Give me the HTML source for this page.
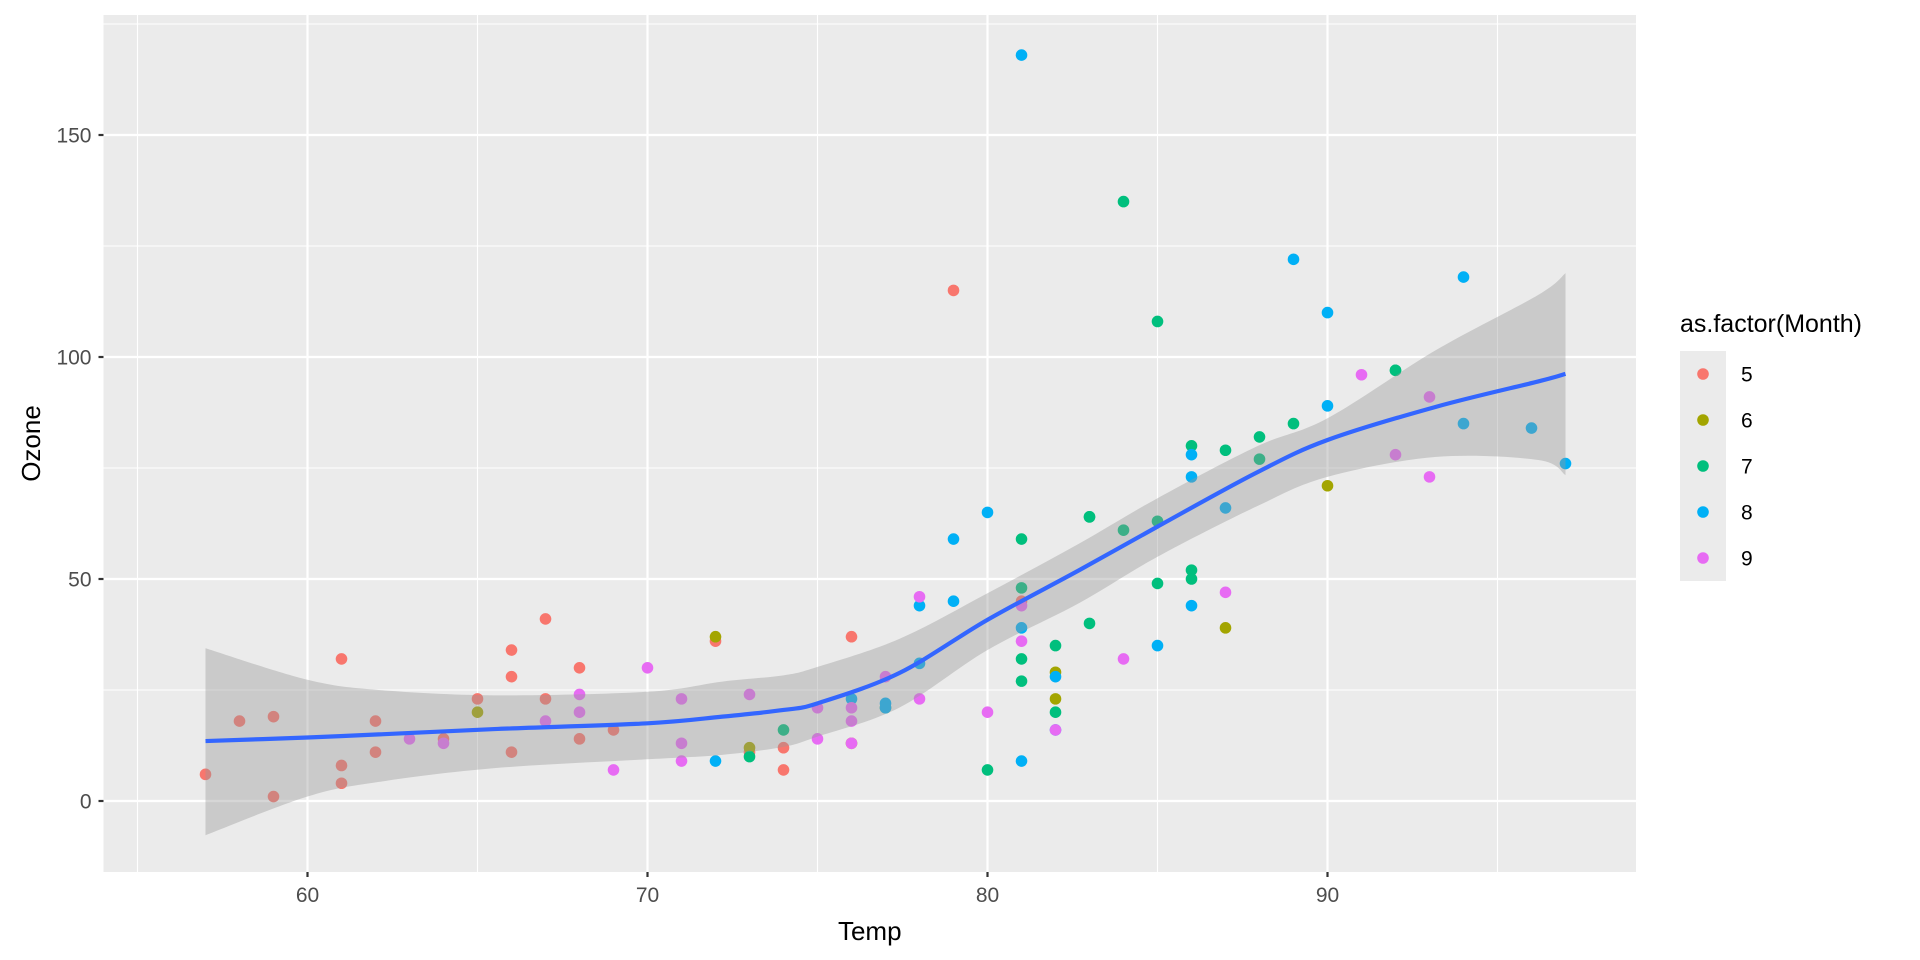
<!DOCTYPE html>
<html><head><meta charset="utf-8"><style>
html,body{margin:0;padding:0;background:#fff;}
svg{display:block;font-family:"Liberation Sans",Arial,sans-serif;}
</style></head><body>
<svg id="s" width="1920" height="960" xmlns="http://www.w3.org/2000/svg"></svg>
<script>
const L=103.5,R=1636,T=15,B=872;
const X=t=>307.5+(t-60)*34.0, Y=v=>801-v*4.44;
const cols={5:"#F8766D",6:"#A3A500",7:"#00BF7D",8:"#00B0F6",9:"#E76BF3"};
const d={
5:[[41,67],[36,72],[12,74],[18,62],[28,66],[23,65],[19,59],[8,61],[7,74],[16,69],[11,66],[14,68],[18,58],[14,64],[34,66],[6,57],[30,68],[11,62],[1,59],[11,73],[4,61],[32,61],[23,67],[45,81],[115,79],[37,76]],
6:[[29,82],[71,90],[39,87],[23,82],[21,77],[37,72],[20,65],[12,73],[13,76]],
7:[[135,84],[49,85],[32,81],[64,83],[40,83],[77,88],[97,92],[97,92],[85,89],[10,73],[27,81],[7,80],[48,81],[35,82],[61,84],[79,87],[63,85],[16,74],[80,86],[108,85],[20,82],[52,86],[82,88],[50,86],[64,83],[59,81]],
8:[[39,81],[9,81],[16,82],[78,86],[35,85],[66,87],[122,89],[89,90],[110,90],[44,86],[28,82],[65,80],[22,77],[59,79],[23,76],[31,78],[44,78],[21,77],[9,72],[45,79],[168,81],[73,86],[76,97],[118,94],[84,96],[85,94]],
9:[[96,91],[78,92],[73,93],[91,93],[47,87],[32,84],[20,80],[23,78],[21,75],[24,73],[44,81],[21,76],[28,77],[9,71],[13,71],[46,78],[18,67],[13,76],[24,68],[16,82],[13,64],[23,71],[36,81],[7,69],[14,63],[30,70],[14,75],[18,76],[20,68]]};
const band=[[57,-7.7,13.5,34.4],[60,1,14.3,27.3],[62.1,4.3,15,25],[65.5,7.4,16.2,23.8],[70,9.4,17.5,24.6],[72.2,10.4,19,26.9],[74,12.2,20.5,28.3],[75,14.5,22,30.2],[77.4,21,28.8,36.5],[80,34,40.8,46.8],[82.7,44.6,52,58],[85,55,61.8,68.2],[87.9,66.3,73.9,79.8],[90,73,81.3,86.2],[93.2,77.5,88.8,101.6],[96.2,76.8,94.5,114],[97,73.4,96.2,118.9]];
function cr(pts,start){let s=start?`M${pts[0][0]},${pts[0][1]}`:`L${pts[0][0]},${pts[0][1]}`;
 for(let i=0;i<pts.length-1;i++){const p0=pts[Math.max(i-1,0)],p1=pts[i],p2=pts[i+1],p3=pts[Math.min(i+2,pts.length-1)];
  const c1=[p1[0]+(p2[0]-p0[0])/6,p1[1]+(p2[1]-p0[1])/6],c2=[p2[0]-(p3[0]-p1[0])/6,p2[1]-(p3[1]-p1[1])/6];
  s+=`C${c1[0]},${c1[1]} ${c2[0]},${c2[1]} ${p2[0]},${p2[1]}`;}
 return s;}
let h='';
h+=`<rect x="${L}" y="${T}" width="${R-L}" height="${B-T}" fill="#EBEBEB"/>`;
for(const t of [55,65,75,85,95]) h+=`<line x1="${X(t)}" x2="${X(t)}" y1="${T}" y2="${B}" stroke="#fff" stroke-width="1.1"/>`;
for(const v of [-25,25,75,125,175]) if(Y(v)>T&&Y(v)<B) h+=`<line x1="${L}" x2="${R}" y1="${Y(v)}" y2="${Y(v)}" stroke="#fff" stroke-width="1.1"/>`;
for(const t of [60,70,80,90]) h+=`<line x1="${X(t)}" x2="${X(t)}" y1="${T}" y2="${B}" stroke="#fff" stroke-width="2.2"/>`;
for(const v of [0,50,100,150]) h+=`<line x1="${L}" x2="${R}" y1="${Y(v)}" y2="${Y(v)}" stroke="#fff" stroke-width="2.2"/>`;
for(const m of [5,6,7,8,9]) for(const [o,t] of d[m]) h+=`<circle cx="${X(t)}" cy="${Y(o)}" r="5.8" fill="${cols[m]}"/>`;
const up=band.map(b=>[X(b[0]),Y(b[3])]), lo=band.slice().reverse().map(b=>[X(b[0]),Y(b[1])]), fit=band.map(b=>[X(b[0]),Y(b[2])]);
h+=`<path d="${cr(up,true)} ${cr(lo,false)} Z" fill="#999999" fill-opacity="0.4"/>`;
h+=`<path d="${cr(fit,true)}" fill="none" stroke="#3366FF" stroke-width="4.2" stroke-linejoin="round"/>`;
for(const t of [60,70,80,90]){h+=`<line x1="${X(t)}" x2="${X(t)}" y1="${B}" y2="${B+5}" stroke="#333" stroke-width="2.2"/>`;h+=`<text x="${X(t)}" y="${B+30}" font-size="21" fill="#4D4D4D" text-anchor="middle">${t}</text>`;}
for(const v of [0,50,100,150]){h+=`<line x1="${L-5}" x2="${L}" y1="${Y(v)}" y2="${Y(v)}" stroke="#333" stroke-width="2.2"/>`;h+=`<text x="${L-12}" y="${Y(v)+7.5}" font-size="21" fill="#4D4D4D" text-anchor="end">${v}</text>`;}
h+=`<text x="${(L+R)/2}" y="940" font-size="26" fill="#000" text-anchor="middle">Temp</text>`;
h+=`<text transform="translate(40,${(T+B)/2}) rotate(-90)" font-size="26" fill="#000" text-anchor="middle">Ozone</text>`;
h+=`<text x="1680" y="332" font-size="25" fill="#000">as.factor(Month)</text>`;
h+=`<rect x="1680" y="351" width="46" height="230" fill="#EBEBEB"/>`;
[5,6,7,8,9].forEach((m,i)=>{const cy=374+i*46;h+=`<circle cx="1703" cy="${cy}" r="5.8" fill="${cols[m]}"/>`;h+=`<text x="1741" y="${cy+7.5}" font-size="21" fill="#000">${m}</text>`;});
document.getElementById('s').innerHTML=h;
</script>
</body></html>
